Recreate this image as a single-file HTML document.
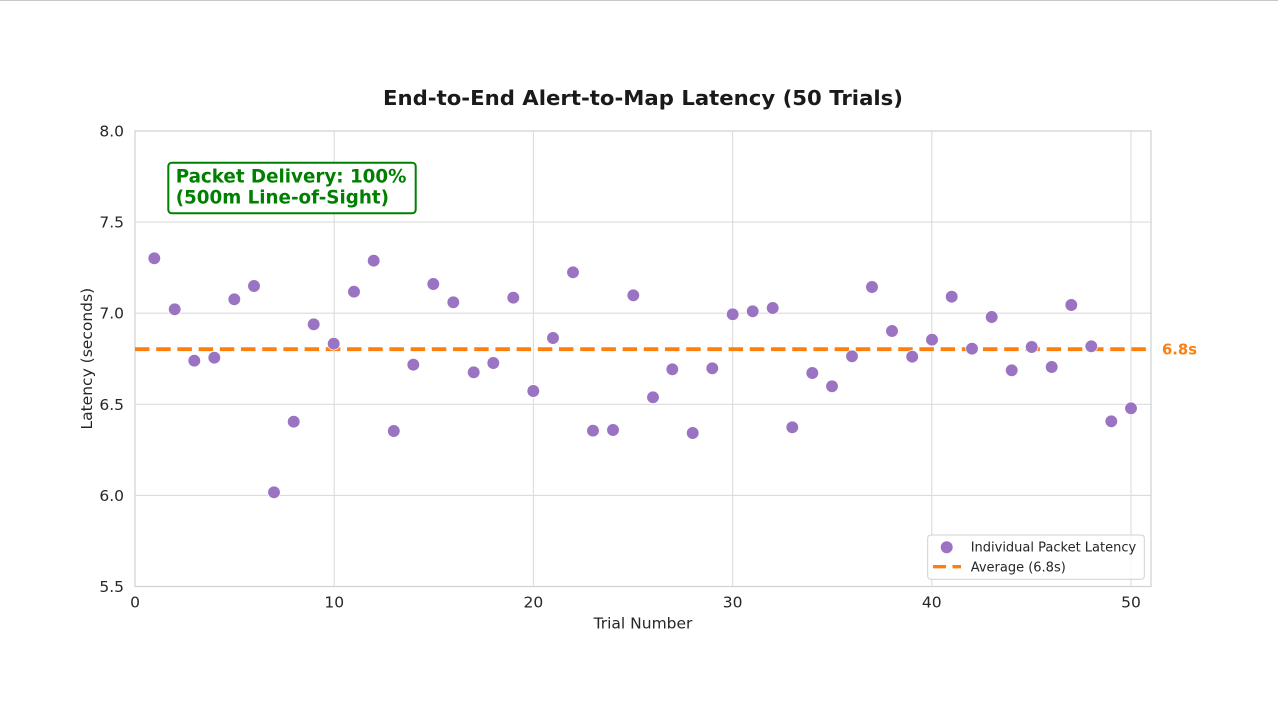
<!DOCTYPE html>
<html>
<head>
<meta charset="utf-8">
<style>
  html, body { margin:0; padding:0; background:#fff; }
  svg { display:block; }
  text { font-family: "DejaVu Sans", "Liberation Sans", sans-serif; }
</style>
</head>
<body>
<svg width="1278" height="720" viewBox="0 0 1278 720" xmlns="http://www.w3.org/2000/svg">
  <rect x="0" y="0" width="1278" height="720" fill="#ffffff"/>
  <line x1="0" y1="0.5" x2="1278" y2="0.5" stroke="#c8c8c8" stroke-width="1"/>

  <text x="643" y="105" text-anchor="middle" font-size="20.5" font-weight="bold" fill="#1a1a1a" textLength="520" lengthAdjust="spacingAndGlyphs">End-to-End Alert-to-Map Latency (50 Trials)</text>

  <g stroke="#dcdcdc" stroke-width="1.1">
    <line x1="135" y1="222.1" x2="1151" y2="222.1"/>
    <line x1="135" y1="313.2" x2="1151" y2="313.2"/>
    <line x1="135" y1="404.3" x2="1151" y2="404.3"/>
    <line x1="135" y1="495.4" x2="1151" y2="495.4"/>
    <line x1="334.2" y1="131" x2="334.2" y2="586.5"/>
    <line x1="533.4" y1="131" x2="533.4" y2="586.5"/>
    <line x1="732.6" y1="131" x2="732.6" y2="586.5"/>
    <line x1="931.8" y1="131" x2="931.8" y2="586.5"/>
    <line x1="1131" y1="131" x2="1131" y2="586.5"/>
  </g>
  <rect x="135" y="131" width="1016" height="455.5" fill="none" stroke="#d4d4d4" stroke-width="1.3"/>

  <g font-size="15.5" fill="#262626" text-anchor="end">
    <text x="124" y="136.5">8.0</text>
    <text x="124" y="227.6">7.5</text>
    <text x="124" y="318.7">7.0</text>
    <text x="124" y="409.8">6.5</text>
    <text x="124" y="500.9">6.0</text>
    <text x="124" y="592">5.5</text>
  </g>
  <g font-size="15.5" fill="#262626" text-anchor="middle">
    <text x="135" y="607.5">0</text>
    <text x="334.2" y="607.5">10</text>
    <text x="533.4" y="607.5">20</text>
    <text x="732.6" y="607.5">30</text>
    <text x="931.8" y="607.5">40</text>
    <text x="1131" y="607.5">50</text>
  </g>
  <text x="643" y="628.5" font-size="15.5" fill="#262626" text-anchor="middle">Trial Number</text>
  <text transform="translate(92,358.7) rotate(-90)" font-size="15.5" fill="#262626" text-anchor="middle">Latency (seconds)</text>

  <line x1="135" y1="349.2" x2="1151" y2="349.2" stroke="#ff7f0e" stroke-width="3.8" stroke-dasharray="14.5 6.7"/>
  <text x="1162" y="354.5" font-size="14.8" font-weight="bold" fill="#ff7f0e">6.8s</text>

  <g fill="#9b73c3" stroke="#ffffff" stroke-width="0.7">
    <circle cx="154.3" cy="258.3" r="6.3"/>
    <circle cx="174.7" cy="309.3" r="6.3"/>
    <circle cx="194.3" cy="360.7" r="6.3"/>
    <circle cx="214.3" cy="357.7" r="6.3"/>
    <circle cx="234.3" cy="299.3" r="6.3"/>
    <circle cx="254" cy="286" r="6.3"/>
    <circle cx="274" cy="492.3" r="6.3"/>
    <circle cx="293.7" cy="421.7" r="6.3"/>
    <circle cx="313.7" cy="324.3" r="6.3"/>
    <circle cx="333.7" cy="343.7" r="6.3"/>
    <circle cx="354" cy="291.7" r="6.3"/>
    <circle cx="373.7" cy="260.7" r="6.3"/>
    <circle cx="393.8" cy="431" r="6.3"/>
    <circle cx="413.3" cy="364.7" r="6.3"/>
    <circle cx="433.3" cy="284" r="6.3"/>
    <circle cx="453.3" cy="302.3" r="6.3"/>
    <circle cx="473.7" cy="372.3" r="6.3"/>
    <circle cx="493.3" cy="363" r="6.3"/>
    <circle cx="513.3" cy="297.7" r="6.3"/>
    <circle cx="533.3" cy="391" r="6.3"/>
    <circle cx="553" cy="338" r="6.3"/>
    <circle cx="573" cy="272.3" r="6.3"/>
    <circle cx="593" cy="430.7" r="6.3"/>
    <circle cx="613" cy="430" r="6.3"/>
    <circle cx="633.3" cy="295.3" r="6.3"/>
    <circle cx="653" cy="397.3" r="6.3"/>
    <circle cx="672.3" cy="369.3" r="6.3"/>
    <circle cx="692.7" cy="433" r="6.3"/>
    <circle cx="712.3" cy="368.3" r="6.3"/>
    <circle cx="732.7" cy="314.3" r="6.3"/>
    <circle cx="752.7" cy="311.3" r="6.3"/>
    <circle cx="772.7" cy="308" r="6.3"/>
    <circle cx="792.3" cy="427.3" r="6.3"/>
    <circle cx="812.3" cy="373" r="6.3"/>
    <circle cx="832" cy="386.3" r="6.3"/>
    <circle cx="852" cy="356.3" r="6.3"/>
    <circle cx="872" cy="287" r="6.3"/>
    <circle cx="892" cy="331" r="6.3"/>
    <circle cx="912.2" cy="356.7" r="6.3"/>
    <circle cx="932" cy="339.7" r="6.3"/>
    <circle cx="951.7" cy="296.7" r="6.3"/>
    <circle cx="972" cy="348.7" r="6.3"/>
    <circle cx="991.7" cy="317" r="6.3"/>
    <circle cx="1011.7" cy="370.3" r="6.3"/>
    <circle cx="1031.7" cy="347" r="6.3"/>
    <circle cx="1051.7" cy="367" r="6.3"/>
    <circle cx="1071.3" cy="305" r="6.3"/>
    <circle cx="1091.3" cy="346.3" r="6.3"/>
    <circle cx="1111.3" cy="421.3" r="6.3"/>
    <circle cx="1131" cy="408.3" r="6.3"/>
  </g>

  <rect x="168.3" y="162.7" width="247.4" height="50.6" rx="3.5" ry="3.5" fill="#ffffff" stroke="#008000" stroke-width="2"/>
  <g font-size="18.3" font-weight="bold" fill="#008000">
    <text x="175.7" y="182.7">Packet Delivery: 100%</text>
    <text x="175.7" y="203.5">(500m Line-of-Sight)</text>
  </g>

  <rect x="927.7" y="535" width="216.6" height="44.3" rx="3" ry="3" fill="#ffffff" fill-opacity="0.85" stroke="#d0d0d0" stroke-width="1"/>
  <circle cx="946.7" cy="547.3" r="6" fill="#9b73c3"/>
  <text x="970.7" y="551.7" font-size="13" fill="#262626">Individual Packet Latency</text>
  <line x1="933" y1="566.7" x2="961" y2="566.7" stroke="#ff7f0e" stroke-width="3.4" stroke-dasharray="13 6.5"/>
  <text x="970.7" y="571.7" font-size="13" fill="#262626">Average (6.8s)</text>
</svg>
</body>
</html>
